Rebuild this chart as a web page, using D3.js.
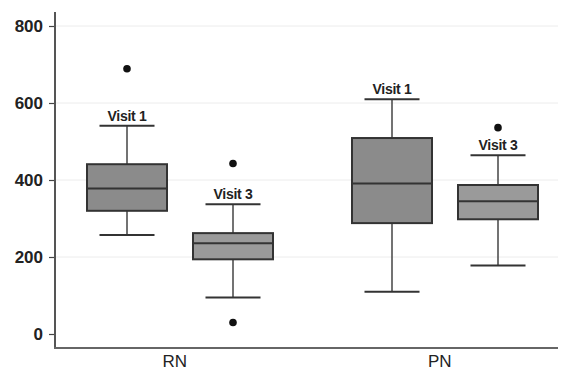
<!DOCTYPE html>
<html>
<head>
<meta charset="utf-8">
<script src="https://cdn.jsdelivr.net/npm/d3@7"></script>
<style>
  body { margin: 0; background: #fff; }
  svg { display: block; font-family: "Liberation Sans", Arial, sans-serif; }
</style>
</head>
<body>
<div id="chart"></div>
<script>
// Data
const groups = ["RN", "PN"];
const visits = ["Visit 1", "Visit 3", "Visit 1", "Visit 3"];
const boxGroup = ["RN", "RN", "PN", "PN"];
const whiskerLow = [257, 95, 110, 178];
const q1 = [320, 194, 288, 298];
const median = [378, 236, 391, 345];
const q3 = [441, 262, 509, 387];
const whiskerHigh = [541, 337, 610, 464];
const outliers = [[689], [443, 30], [], [536]];
const yTicks = [0, 200, 400, 600, 800];

const width = 561, height = 372;
const margin = {top: 12, right: 3, bottom: 24, left: 55};

const svg = d3.select("#chart").append("svg")
    .attr("width", width)
    .attr("height", height);

// y scale: 0 -> 334px, 800 -> 26px
const y = d3.scaleLinear().domain([0, 800]).range([334, 26]);

// x position: boxes within groups
const boxPos = [1, 2, 3.5, 4.5];
const groupPos = {RN: 1.45, PN: 3.95};
const x = d3.scaleLinear().domain([1, 4.5]).range([127, 498]);

const boxHalf = 40, capHalf = 27.5;
const fills = {"Visit 1": "#8b8b8b", "Visit 3": "#9a9a9a"};

// gridlines
svg.append("g")
    .selectAll("line")
    .data(yTicks.slice(1))
    .join("line")
    .attr("x1", margin.left)
    .attr("x2", width - margin.right)
    .attr("y1", d => y(d))
    .attr("y2", d => y(d))
    .attr("stroke", "#ececec")
    .attr("stroke-width", 1);

// y axis
const yAxis = svg.append("g")
    .attr("transform", `translate(${margin.left},0)`)
    .call(d3.axisLeft(y).tickValues(yTicks).tickSize(6).tickPadding(6).tickSizeOuter(0));
yAxis.select(".domain").remove();
yAxis.selectAll(".tick line").attr("stroke", "#444").attr("stroke-width", 1.2);
yAxis.selectAll(".tick text")
    .attr("fill", "#222")
    .attr("font-size", 17)
    .attr("font-family", "'Liberation Sans', Arial, sans-serif")
    .attr("font-weight", "bold");

svg.append("line")
    .attr("x1", margin.left).attr("x2", margin.left)
    .attr("y1", margin.top).attr("y2", height - margin.bottom)
    .attr("stroke", "#555").attr("stroke-width", 2);

// x axis line
svg.append("line")
    .attr("x1", margin.left - 1).attr("x2", width - margin.right)
    .attr("y1", height - margin.bottom).attr("y2", height - margin.bottom)
    .attr("stroke", "#666").attr("stroke-width", 2);

// group labels
svg.append("g")
    .selectAll("text")
    .data(groups)
    .join("text")
    .attr("x", d => x(groupPos[d]))
    .attr("y", 367)
    .attr("text-anchor", "middle")
    .attr("fill", "#222")
    .style("font-size", "17px")
    .text(d => d);

// boxes
const boxes = svg.append("g")
    .selectAll("g")
    .data(d3.range(visits.length))
    .join("g")
    .attr("transform", i => `translate(${x(boxPos[i])},0)`);

boxes.append("line")
    .attr("y1", i => y(whiskerLow[i]))
    .attr("y2", i => y(whiskerHigh[i]))
    .attr("stroke", "#444").attr("stroke-width", 1.5);

boxes.append("line")
    .attr("x1", -capHalf).attr("x2", capHalf)
    .attr("y1", i => y(whiskerHigh[i])).attr("y2", i => y(whiskerHigh[i]))
    .attr("stroke", "#333").attr("stroke-width", 2);

boxes.append("line")
    .attr("x1", -capHalf).attr("x2", capHalf)
    .attr("y1", i => y(whiskerLow[i])).attr("y2", i => y(whiskerLow[i]))
    .attr("stroke", "#333").attr("stroke-width", 2);

boxes.append("rect")
    .attr("x", -boxHalf)
    .attr("width", boxHalf * 2)
    .attr("y", i => y(q3[i]))
    .attr("height", i => y(q1[i]) - y(q3[i]))
    .attr("fill", i => fills[visits[i]])
    .attr("stroke", "#333").attr("stroke-width", 2);

boxes.append("line")
    .attr("x1", -boxHalf).attr("x2", boxHalf)
    .attr("y1", i => y(median[i])).attr("y2", i => y(median[i]))
    .attr("stroke", "#333").attr("stroke-width", 2);

boxes.selectAll("circle")
    .data(i => outliers[i])
    .join("circle")
    .attr("cy", d => y(d))
    .attr("r", 3.8)
    .attr("fill", "#111");

boxes.append("text")
    .attr("y", i => y(whiskerHigh[i]) - 5)
    .attr("text-anchor", "middle")
    .attr("fill", "#222")
    .style("font-size", "14px")
    .style("font-weight", "bold")
    .style("letter-spacing", "-0.3px")
    .text(i => visits[i]);
</script>
</body>
</html>
